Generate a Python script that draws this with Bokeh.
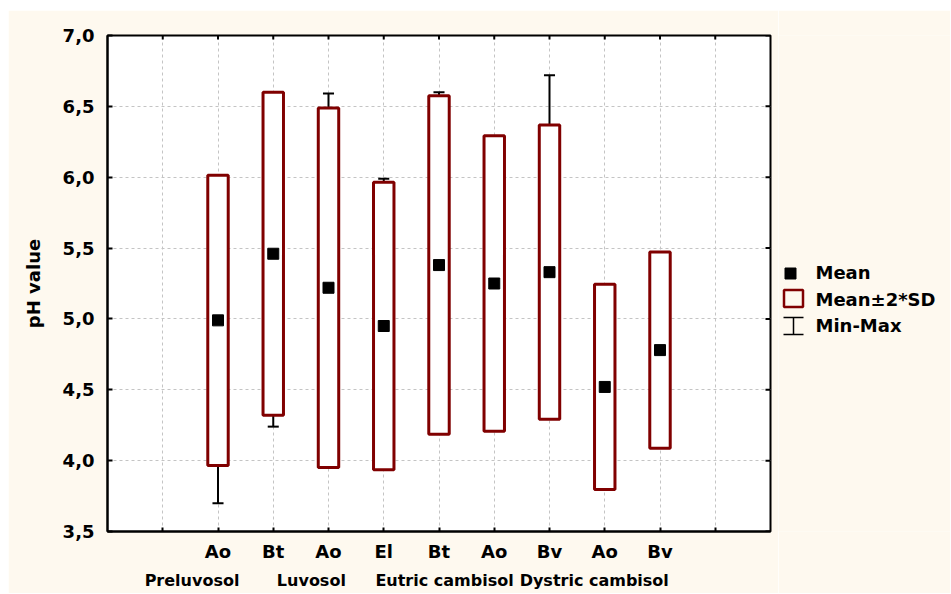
import numpy as np
from bokeh.plotting import figure
from bokeh.models import Range1d, FixedTicker, LinearAxis, CustomJSTickFormatter, Spacer
from bokeh.layouts import row, column
from bokeh.core.properties import value
from bokeh.embed import file_html
from bokeh.resources import INLINE

# ---- data ----
horizons = ["Ao", "Bt", "Ao", "El", "Bt", "Ao", "Bv", "Ao", "Bv"]
soil_groups = ["Preluvosol", "Luvosol", "Eutric cambisol", "Dystric cambisol"]
group_label_pos = [1.53, 3.69, 6.10, 8.81]
means = [4.99, 5.46, 5.22, 4.95, 5.38, 5.25, 5.33, 4.52, 4.78]
sds = [0.512, 0.570, 0.634, 0.507, 0.597, 0.521, 0.519, 0.362, 0.346]
mins = [3.70, 4.24, 4.05, 4.05, 4.30, 4.35, 4.40, 3.90, 4.20]
maxs = [5.90, 6.50, 6.59, 5.99, 6.60, 6.20, 6.72, 5.10, 5.40]
y_ticks = [3.5, 4.0, 4.5, 5.0, 5.5, 6.0, 6.5, 7.0]
legend_labels = ["Mean", "Mean\u00b12*SD", "Min-Max"]

CREAM = "#fef9ef"
DARKRED = "#800000"
FONT = "DejaVu Sans"

X0, X1 = 0, 12
Y0, Y1 = 3.5, 7.0
FRAME_W, FRAME_H = 663, 496

x = np.arange(2, 2 + len(horizons))
m = np.array(means)
s = np.array(sds)
lo = m - 2 * s
hi = m + 2 * s
slots = list(range(1, len(horizons) + 3))

P_W, P_H = 770, 583
p = figure(width=P_W, height=P_H, x_range=Range1d(X0, X1), y_range=Range1d(Y0, Y1),
           output_backend="svg", toolbar_location=None,
           min_border_left=99, min_border_right=8, min_border_top=25, min_border_bottom=62,
           border_fill_color=CREAM, background_fill_color="white",
           outline_line_color="black", outline_line_width=2)

# grids
p.xgrid.ticker = FixedTicker(ticks=slots)
p.ygrid.ticker = FixedTicker(ticks=y_ticks)
for g in (p.xgrid, p.ygrid):
    g.grid_line_color = "#c4c4c4"
    g.grid_line_dash = "3 3"
    g.grid_line_width = 1

# x axis (horizons)
xa = p.xaxis[0]
xa.ticker = FixedTicker(ticks=slots)
overrides = {t: "" for t in slots}
for xi, h in zip(x, horizons):
    overrides[int(xi)] = h
xa.major_label_overrides = overrides
xa.major_label_text_font = FONT
xa.major_label_text_font_style = "bold"
xa.major_label_text_font_size = "18px"
xa.major_label_text_color = "black"
xa.major_label_standoff = 9
xa.major_tick_in = 4
xa.major_tick_out = 0
xa.major_tick_line_width = 2
xa.minor_tick_line_color = None
xa.axis_line_width = 2
xa.axis_line_color = "black"

# second x axis for soil group names
ga = LinearAxis(ticker=FixedTicker(ticks=group_label_pos),
                major_label_overrides={pos: name for pos, name in zip(group_label_pos, soil_groups)})
ga.axis_line_color = None
ga.major_tick_line_color = None
ga.minor_tick_line_color = None
ga.major_label_standoff = 0
ga.major_label_text_font = FONT
ga.major_label_text_font_style = "bold"
ga.major_label_text_font_size = "16px"
ga.major_label_text_color = "black"
p.add_layout(ga, "below")

# y axis
ya = p.yaxis[0]
ya.ticker = FixedTicker(ticks=y_ticks)
ya.formatter = CustomJSTickFormatter(code="return tick.toFixed(1).replace('.', ',');")
ya.major_label_text_font = FONT
ya.major_label_text_font_style = "bold"
ya.major_label_text_font_size = "18px"
ya.major_label_text_color = "black"
ya.major_label_standoff = 13
ya.major_tick_in = 5
ya.major_tick_out = 0
ya.major_tick_line_width = 2
ya.minor_tick_line_color = None
ya.axis_line_width = 2
ya.axis_line_color = "black"
ya.axis_label = "pH value"
ya.axis_label_text_font = FONT
ya.axis_label_text_font_style = "bold"
ya.axis_label_text_font_size = "18px"
ya.axis_label_text_color = "black"
ya.axis_label_standoff = 16

# inward ticks on the top and right frame edges
ty = 4 * (Y1 - Y0) / FRAME_H
rx = 5 * (X1 - X0) / FRAME_W
st = np.array(slots, dtype=float)
yt = np.array(y_ticks)
p.segment(x0=st, y0=[Y1] * len(st), x1=st, y1=[Y1 - ty] * len(st), line_color="black", line_width=2)
p.segment(x0=[X1] * len(yt), y0=yt, x1=[X1 - rx] * len(yt), y1=yt, line_color="black", line_width=2)

# glyphs: whiskers, caps, boxes, means
cap = 0.1
half = 0.185
p.segment(x0=x, y0=mins, x1=x, y1=maxs, line_color="black", line_width=2)
p.segment(x0=x - cap, y0=mins, x1=x + cap, y1=mins, line_color="black", line_width=2)
p.segment(x0=x - cap, y0=maxs, x1=x + cap, y1=maxs, line_color="black", line_width=2)
p.quad(left=x - half, right=x + half, bottom=lo, top=hi,
       fill_color="white", line_color=DARKRED, line_width=3)
p.scatter(x=x, y=means, marker="square", size=11, color="black")

# legend panel (coordinates are page pixels; frame matches main plot frame rows 35..531)
L_W = 172
leg = figure(width=L_W, height=P_H, x_range=Range1d(778, 778 + L_W), y_range=Range1d(531, 35),
             output_backend="svg", toolbar_location=None,
             min_border_left=0, min_border_right=0, min_border_top=25, min_border_bottom=62,
             x_axis_type=None, y_axis_type=None,
             border_fill_color=CREAM, background_fill_color=CREAM, outline_line_color=None)
sym_x = 793
row_y = [273, 298, 325.5]
leg.scatter(x=[790], y=[row_y[0]], marker="square", size=11, color="black")
leg.rect(x=[sym_x], y=[row_y[1]], width=19, height=17, fill_color=None,
         line_color=DARKRED, line_width=2.5)
leg.segment(x0=[sym_x], y0=[row_y[2] - 8.5], x1=[sym_x], y1=[row_y[2] + 8.5],
            line_color="black", line_width=1.5)
leg.segment(x0=[sym_x - 10, sym_x - 10], y0=[row_y[2] - 8.5, row_y[2] + 8.5],
            x1=[sym_x + 10, sym_x + 10], y1=[row_y[2] - 8.5, row_y[2] + 8.5],
            line_color="black", line_width=1.5)
leg.text(x=[815] * 3, y=[272, 298.5, 325], text=legend_labels, text_font=value(FONT),
         text_font_style="bold", text_font_size="18px", text_color="black",
         text_baseline="middle", text_align="left")

layout = column(Spacer(height=10), row(Spacer(width=8), p, leg))
open("out.html", "w").write(file_html(layout, INLINE))
